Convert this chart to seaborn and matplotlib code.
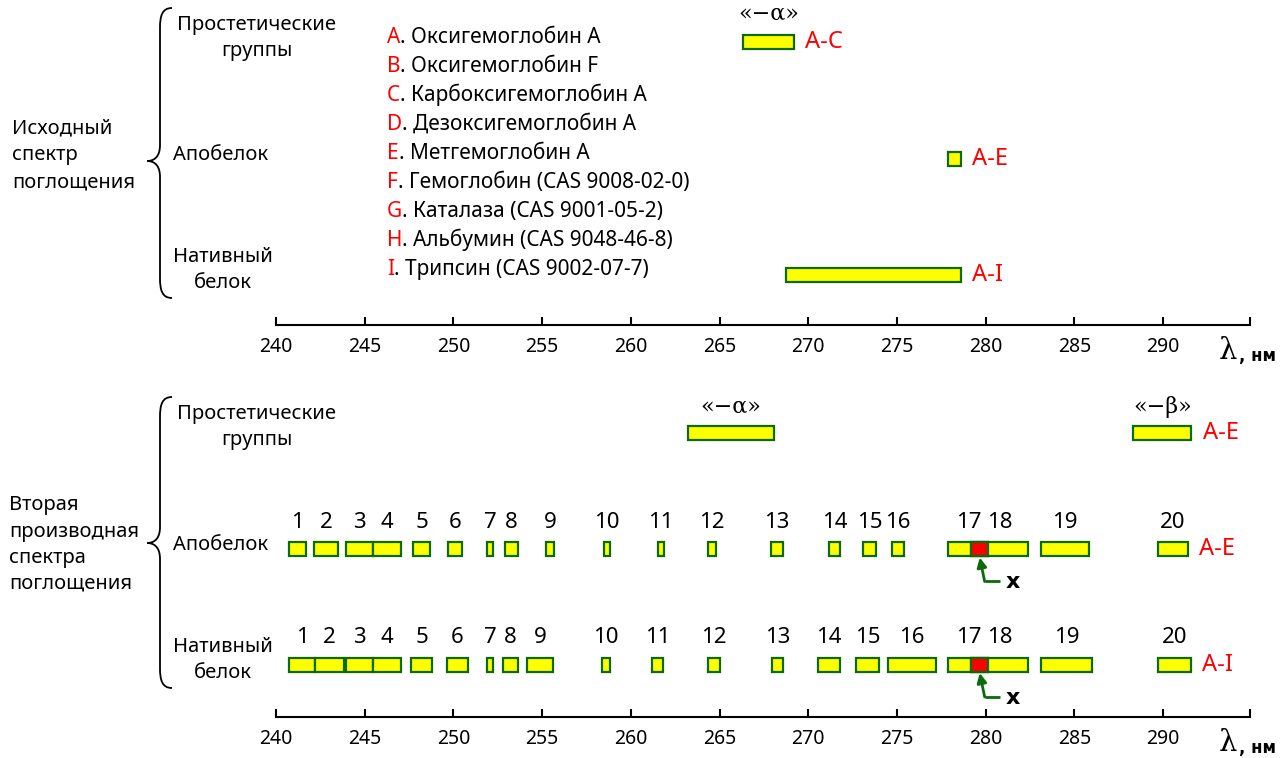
import matplotlib
matplotlib.use("Agg")
import matplotlib.pyplot as plt
from matplotlib.path import Path
from matplotlib.patches import PathPatch
import seaborn as sns

sns.set_theme(style="white")
plt.rcParams["font.family"] = ["Noto Sans", "DejaVu Sans"]
plt.rcParams["text.color"] = "black"
plt.rcParams["xtick.color"] = "black"
plt.rcParams["xtick.labelcolor"] = "black"

# ---------------- data ----------------
ticks = [240, 245, 250, 255, 260, 265, 270, 275, 280, 285, 290]
x_min, x_max = 240, 294.9

legend_letters = ["A", "B", "C", "D", "E", "F", "G", "H", "I"]
legend_names = ["Оксигемоглобин А", "Оксигемоглобин F", "Карбоксигемоглобин А",
                "Дезоксигемоглобин А", "Метгемоглобин А", "Гемоглобин (CAS 9008-02-0)",
                "Каталаза (CAS 9001-05-2)", "Альбумин (CAS 9048-46-8)", "Трипсин (CAS 9002-07-7)"]

# top panel: original absorption spectrum
top_rows = ["Простетические\nгруппы", "Апобелок", "Нативный\nбелок"]
top_tags = ["A-C", "A-E", "A-I"]
top_start = [266.3, 277.9, 268.75]
top_end = [269.2, 278.6, 278.6]
top_greek = ["«−α»", "", ""]

# bottom panel: second derivative
pros_start = [263.2, 288.3]
pros_end = [268.05, 291.6]
pros_greek = ["«−α»", "«−β»"]
pros_tag = "A-E"

band_ids = [str(i) for i in range(1, 21)]
apo_start = [240.75, 242.16, 243.95, 245.45, 247.74, 249.71, 251.91, 252.93, 255.22, 258.51,
             261.52, 264.33, 267.90, 271.17, 273.10, 274.70, 277.90, 279.18, 283.12, 289.70]
apo_end = [241.69, 243.48, 245.45, 247.03, 248.68, 250.47, 252.25, 253.64, 255.67, 258.83,
           261.86, 264.79, 268.60, 271.79, 273.82, 275.42, 280.15, 282.40, 285.83, 291.40]
apo_tag = "A-E"
nat_start = [240.75, 242.20, 243.95, 245.45, 247.59, 249.62, 251.91, 252.78, 254.17, 258.36,
             261.18, 264.33, 267.94, 270.53, 272.70, 274.52, 277.90, 279.18, 283.12, 289.70]
nat_end = [242.20, 243.83, 245.45, 247.03, 248.81, 250.84, 252.25, 253.64, 255.63, 258.83,
           261.83, 265.02, 268.60, 271.79, 274.00, 277.19, 280.15, 282.40, 285.98, 291.56]
nat_tag = "A-I"

# ---------------- style ----------------
YELLOW = "#ffff00"
GREEN = "#0b6b0b"
RED = "#ff0000"
W, H = 1288, 758
BAR_H = 14

fig = plt.figure(figsize=(W / 100, H / 100), dpi=100)
fig.patch.set_facecolor("white")

ov = fig.add_axes([0, 0, 1, 1])
ov.set_xlim(0, W)
ov.set_ylim(H, 0)
ov.axis("off")
ov.patch.set_alpha(0)


def make_axis(y_axis, y_top):
    ax = fig.add_axes([276 / W, 1 - y_axis / H, (1250 - 276) / W, (y_axis - y_top) / H])
    ax.patch.set_alpha(0)
    ax.set_xlim(x_min, x_max)
    ax.set_ylim(y_axis, y_top)
    sns.despine(ax=ax, left=True, top=True, right=True)
    ax.spines["bottom"].set_color("black")
    ax.spines["bottom"].set_linewidth(1.5)
    ax.set_yticks([])
    ax.set_xticks(ticks + [x_max])
    ax.set_xticklabels([str(t) for t in ticks] + [""])
    ax.tick_params(axis="x", direction="in", length=6, width=1.5, color="black",
                   labelsize=14, pad=9, bottom=True, labelcolor="black")
    ax.grid(False)
    lam = ov.text(1219, y_axis + 34, "λ", ha="left", va="baseline",
                  fontsize=21, family=["DejaVu Serif"])
    ov.annotate(", нм", xy=(1, 0), xycoords=lam, xytext=(1, 0), textcoords="offset points",
                ha="left", va="bottom", fontsize=12, fontweight="bold",
                family=["DejaVu Sans"])
    return ax


def bars(ax, starts, ends, y, color=YELLOW):
    widths = [e - s for s, e in zip(starts, ends)]
    ax.barh([y] * len(starts), widths, left=starts, height=BAR_H, color=color,
            edgecolor=GREEN, linewidth=1.6, zorder=3)


def tag(ax, x, y, s):
    ax.annotate(s, xy=(x, y), xytext=(8, 0), textcoords="offset points",
                ha="left", va="center", color=RED, fontsize=17, clip_on=False)


def greek(ax, x, y, s):
    ax.text(x, y, s, ha="center", va="center", fontsize=16, clip_on=False,
            family=["DejaVu Serif"])


def brace(x_right, x_mid, x_tip, y_top, y_tip, y_bot):
    verts = [(x_right, y_top), (x_mid + 2, y_top), (x_mid, y_top + 8), (x_mid, y_top + 20),
             (x_mid, y_tip - 16),
             (x_mid, y_tip - 5), (x_tip + 8, y_tip), (x_tip, y_tip),
             (x_tip + 8, y_tip), (x_mid, y_tip + 5), (x_mid, y_tip + 16),
             (x_mid, y_bot - 20),
             (x_mid, y_bot - 8), (x_mid + 2, y_bot), (x_right, y_bot)]
    codes = [Path.MOVETO, Path.CURVE4, Path.CURVE4, Path.CURVE4,
             Path.LINETO,
             Path.CURVE4, Path.CURVE4, Path.CURVE4,
             Path.CURVE4, Path.CURVE4, Path.CURVE4,
             Path.LINETO,
             Path.CURVE4, Path.CURVE4, Path.CURVE4]
    ov.add_patch(PathPatch(Path(verts, codes), fill=False, lw=1.3, edgecolor="black"))


# ---------------- top panel ----------------
ax1 = make_axis(325, 0)
top_y = [42, 159, 275]
for s, e, y, t, g in zip(top_start, top_end, top_y, top_tags, top_greek):
    bars(ax1, [s], [e], y)
    tag(ax1, e, y, t)
    if g:
        greek(ax1, (s + e) / 2, y - 28, g)

brace(172, 160, 147, 8, 161, 298)
for s, y in zip(["Исходный", "спектр", "поглощения"], [128, 155, 182]):
    ov.text(12, y, s, ha="left", va="center", fontsize=14.5)
ov.text(257, 38, top_rows[0], ha="center", va="center", fontsize=14.5, linespacing=1.35)
ov.text(173, 155, top_rows[1], ha="left", va="center", fontsize=14.5)
ov.text(223, 270, top_rows[2], ha="center", va="center", fontsize=14.5, linespacing=1.35)

for i, (L, name) in enumerate(zip(legend_letters, legend_names)):
    y = 43 + i * 29
    t = ov.text(387, y, L, ha="left", va="baseline", color=RED, fontsize=15)
    ov.annotate(". " + name, xy=(1, y), xycoords=(t, "data"), ha="left", va="baseline",
                fontsize=15, color="black")

# ---------------- bottom panel ----------------
ax2 = make_axis(717, 385)
pros_y, apo_y, nat_y = 433, 549.5, 665
for s, e, g in zip(pros_start, pros_end, pros_greek):
    bars(ax2, [s], [e], pros_y)
    greek(ax2, (s + e) / 2, pros_y - 26, g)
tag(ax2, max(pros_end), pros_y, pros_tag)

for starts, ends, y, tg in [(apo_start, apo_end, apo_y, apo_tag),
                            (nat_start, nat_end, nat_y, nat_tag)]:
    bars(ax2, starts, ends, y)
    for s, e, b in zip(starts, ends, band_ids):
        ax2.text((s + e) / 2, y - 27, b, ha="center", va="center", fontsize=16, clip_on=False)
    tag(ax2, max(ends), y, tg)
    # overlap of bands 17 and 18 -> "x"
    xs, xe = starts[17], ends[16]
    bars(ax2, [xs], [xe], y, color=RED)
    xc = (xs + xe) / 2
    ax2.annotate("", xy=(xc, y + BAR_H / 2 + 1), xytext=(xc + 0.28, y + 32),
                 arrowprops=dict(arrowstyle="-|>", color=GREEN, lw=2, mutation_scale=14,
                                 shrinkA=0, shrinkB=0))
    ax2.plot([xc + 0.28, xc + 1.15], [y + 32, y + 32], color=GREEN, lw=2, clip_on=False,
             solid_capstyle="butt")
    ax2.text(xc + 1.45, y + 33, "x", ha="left", va="center", fontsize=16,
             fontweight="bold", family=["DejaVu Sans"], clip_on=False)

brace(172, 160, 147, 397, 543, 688)
for s, y in zip(["Вторая", "производная", "спектра", "поглощения"], [505, 532, 558, 583]):
    ov.text(9, y, s, ha="left", va="center", fontsize=14.5)
ov.text(257, 427, top_rows[0], ha="center", va="center", fontsize=14.5, linespacing=1.35)
ov.text(173, 545, top_rows[1], ha="left", va="center", fontsize=14.5)
ov.text(223, 660, top_rows[2], ha="center", va="center", fontsize=14.5, linespacing=1.35)

fig.savefig("out.png", dpi=100, facecolor="white")
